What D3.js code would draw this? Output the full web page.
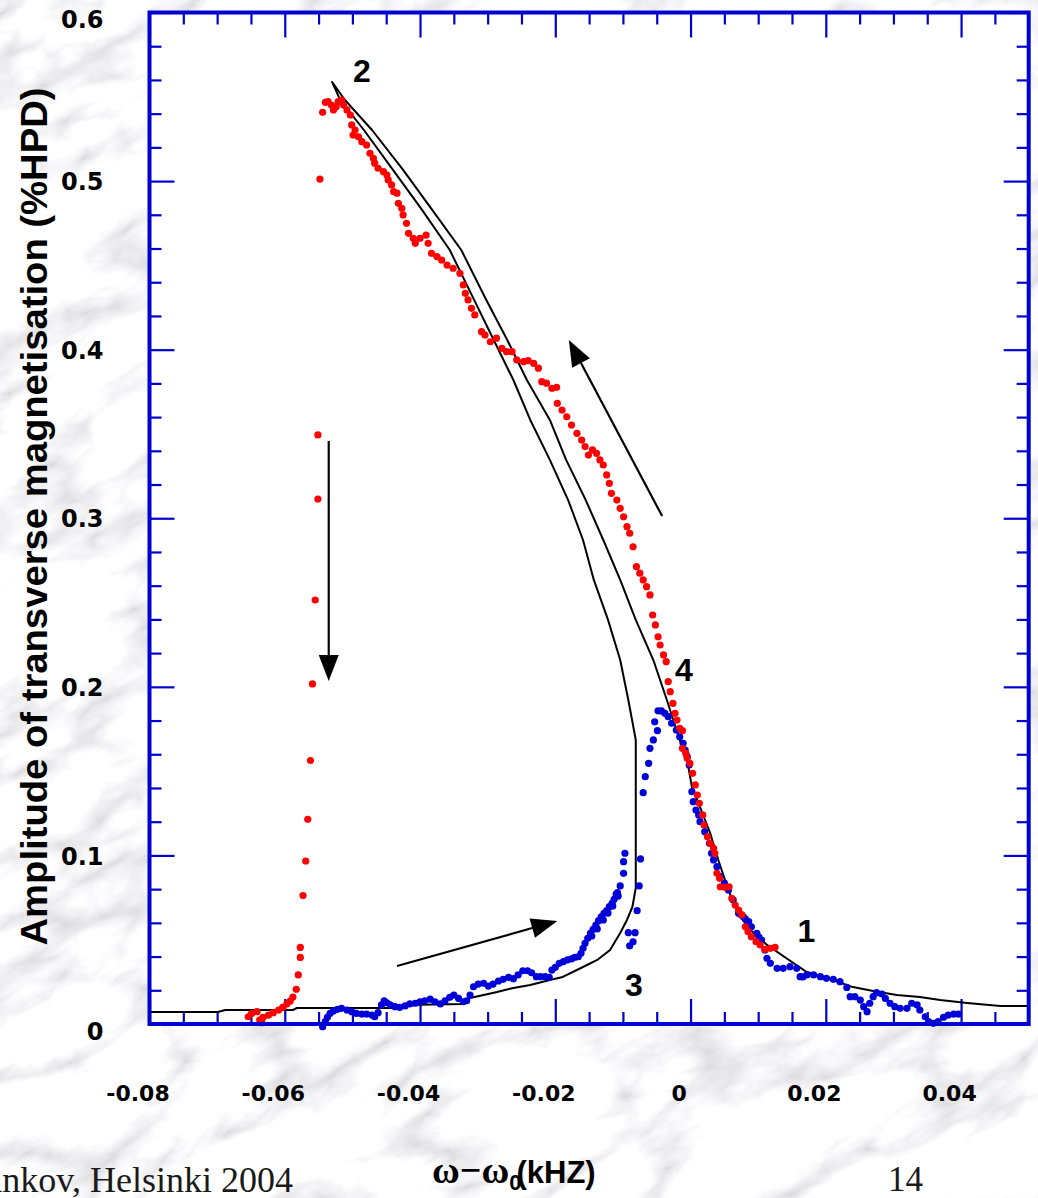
<!DOCTYPE html>
<html>
<head>
<meta charset="utf-8">
<script src="https://cdn.jsdelivr.net/npm/d3@7"></script>
<style>
  html, body { margin: 0; padding: 0; background: #e6e6e6; }
  svg { display: block; }
</style>
</head>
<body>
<svg id="chart" width="1038" height="1198"></svg>
<script>
// ---- axis definitions ----
const xDomain = [-0.08, 0.05];
const yDomain = [0, 0.6];
const xMajorTicks = [-0.08, -0.06, -0.04, -0.02, 0, 0.02, 0.04];
const xMinorTicks = [-0.075, -0.07, -0.065, -0.055, -0.05, -0.045, -0.035, -0.03, -0.025,
                     -0.015, -0.01, -0.005, 0.005, 0.01, 0.015, 0.025, 0.03, 0.035, 0.045];
const yMajorTicks = [0, 0.1, 0.2, 0.3, 0.4, 0.5, 0.6];
const yMinorTicks = [0.02, 0.04, 0.06, 0.08, 0.12, 0.14, 0.16, 0.18, 0.22, 0.24, 0.26, 0.28,
                     0.32, 0.34, 0.36, 0.38, 0.42, 0.44, 0.46, 0.48, 0.52, 0.54, 0.56, 0.58];

// ---- calculated response (folded resonance curve), [frequency offset kHz, amplitude] ----
const theoryCurve = [
  // lower branch
  [-0.0799,0.0071],[-0.0699,0.0071],[-0.0688,0.0083],[-0.0588,0.0083],[-0.0582,0.0095],
  [-0.0434,0.0095],[-0.0425,0.0113],[-0.0336,0.0119],[-0.0326,0.0154],[-0.0286,0.0190],
  [-0.0262,0.0214],[-0.0237,0.0231],[-0.0208,0.0261],[-0.0189,0.0279],[-0.0159,0.0338],
  [-0.0138,0.0380],[-0.0119,0.0439],[-0.0104,0.0540],[-0.0094,0.0617],[-0.0086,0.0694],
  [-0.0081,0.0807],[-0.0081,0.1685],
  // unstable branch up to the fold
  [-0.0092,0.1922],[-0.0104,0.2159],[-0.0122,0.2397],[-0.0143,0.2634],[-0.0159,0.2871],
  [-0.0181,0.3108],[-0.0208,0.3346],[-0.0237,0.3583],[-0.0262,0.3820],[-0.0291,0.4057],
  [-0.0320,0.4295],[-0.0356,0.4591],[-0.0397,0.4829],[-0.0440,0.5066],[-0.0483,0.5303],
  [-0.0518,0.5481],[-0.0530,0.5588],
  // upper branch and high-frequency tail
  [-0.0511,0.5481],[-0.0471,0.5303],[-0.0425,0.5066],[-0.0382,0.4829],[-0.0339,0.4591],
  [-0.0302,0.4295],[-0.0271,0.4057],[-0.0242,0.3820],[-0.0208,0.3583],[-0.0184,0.3346],
  [-0.0155,0.3108],[-0.0129,0.2871],[-0.0104,0.2634],[-0.0081,0.2397],[-0.0055,0.2159],
  [-0.0035,0.1922],[-0.0016,0.1685],[-0.0005,0.1566],
  [0.0002,0.1406],[0.0014,0.1287],[0.0029,0.1133],[0.0041,0.0973],[0.0051,0.0854],
  [0.0063,0.0718],[0.0084,0.0575],[0.0113,0.0469],[0.0152,0.0362],[0.0172,0.0308],
  [0.0202,0.0273],[0.0240,0.0219],[0.0270,0.0196],[0.0305,0.0172],[0.0339,0.0160],
  [0.0369,0.0142],[0.0409,0.0125],[0.0458,0.0107],[0.0499,0.0107]
];

// ---- measured amplitude, downward frequency sweep (red) ----
const sweepDown = [
  [0.0125,0.0455],[0.0118,0.0449],[0.0110,0.0443],[0.0103,0.0469],[0.0097,0.0488],
  [0.0090,0.0518],[0.0085,0.0548],[0.0081,0.0577],[0.0076,0.0647],[0.0071,0.0676],
  [0.0066,0.0706],[0.0061,0.0746],[0.0057,0.0814],[0.0051,0.0811],[0.0044,0.0814],
  [0.0043,0.0864],[0.0039,0.0894],[0.0036,0.1013],[0.0034,0.1042],[0.0029,0.1072],
  [0.0025,0.1111],[0.0020,0.1180],[0.0018,0.1240],[0.0013,0.1309],[0.0010,0.1358],
  [0.0007,0.1418],[0.0003,0.1487],[-0.0001,0.1546],[-0.0005,0.1576],[-0.0007,0.1606],
  [-0.0012,0.1635],[-0.0012,0.1740],[-0.0016,0.1754],[-0.0020,0.1803],[-0.0023,0.1843],
  [-0.0026,0.1902],[-0.0030,0.1971],[-0.0033,0.2031],[-0.0036,0.2149],[-0.0040,0.2189],
  [-0.0045,0.2248],[-0.0048,0.2297],[-0.0052,0.2367],[-0.0056,0.2426],[-0.0060,0.2545],
  [-0.0065,0.2594],[-0.0070,0.2634],[-0.0075,0.2674],[-0.0080,0.2713],[-0.0085,0.2831],
  [-0.0090,0.2911],[-0.0094,0.2950],[-0.0099,0.3009],[-0.0104,0.3059],[-0.0109,0.3108],
  [-0.0117,0.3148],[-0.0120,0.3207],[-0.0124,0.3257],[-0.0129,0.3316],[-0.0134,0.3346],
  [-0.0139,0.3385],[-0.0145,0.3405],[-0.0151,0.3375],[-0.0156,0.3425],[-0.0161,0.3464],
  [-0.0168,0.3504],[-0.0176,0.3553],[-0.0183,0.3602],[-0.0190,0.3642],[-0.0197,0.3682],
  [-0.0198,0.3777],[-0.0205,0.3771],[-0.0213,0.3801],[-0.0220,0.3810],[-0.0225,0.3890],
  [-0.0232,0.3919],[-0.0240,0.3935],[-0.0247,0.3929],[-0.0257,0.3939],[-0.0264,0.3988],
  [-0.0272,0.3988],[-0.0279,0.4008],[-0.0287,0.4068],[-0.0296,0.4047],[-0.0304,0.4087],
  [-0.0309,0.4107],[-0.0319,0.4206],[-0.0324,0.4245],[-0.0329,0.4295],[-0.0333,0.4334],
  [-0.0336,0.4384],[-0.0341,0.4453],[-0.0351,0.4483],[-0.0360,0.4502],[-0.0368,0.4532],
  [-0.0375,0.4552],[-0.0383,0.4572],[-0.0388,0.4631],[-0.0391,0.4680],[-0.0400,0.4661],
  [-0.0407,0.4631],[-0.0410,0.4661],[-0.0417,0.4690],[-0.0420,0.4750],[-0.0425,0.4799],
  [-0.0427,0.4839],[-0.0432,0.4868],[-0.0434,0.4928],[-0.0439,0.4937],[-0.0442,0.4977],
  [-0.0447,0.5007],[-0.0449,0.5036],[-0.0454,0.5056],[-0.0462,0.5076],[-0.0467,0.5106],
  [-0.0469,0.5135],[-0.0474,0.5165],[-0.0479,0.5214],[-0.0486,0.5234],[-0.0491,0.5263],
  [-0.0499,0.5273],[-0.0496,0.5303],[-0.0501,0.5333],[-0.0503,0.5392],[-0.0508,0.5422],
  [-0.0513,0.5451],[-0.0516,0.5481],[-0.0521,0.5471],[-0.0524,0.5441],[-0.0528,0.5422],
  [-0.0531,0.5451],[-0.0536,0.5471],[-0.0540,0.5467],[-0.0544,0.5408],[-0.0548,0.5012],
  [-0.0551,0.3494],[-0.0551,0.3114],[-0.0555,0.2515],[-0.0559,0.2017],[-0.0562,0.1563],
  [-0.0566,0.1214],[-0.0569,0.0967],[-0.0573,0.0762],[-0.0577,0.0454],[-0.0577,0.0395],
  [-0.0580,0.0291],[-0.0583,0.0206],[-0.0588,0.0160],[-0.0592,0.0136],[-0.0597,0.0119],
  [-0.0603,0.0099],[-0.0609,0.0083],[-0.0617,0.0067],[-0.0624,0.0053],[-0.0632,0.0040],
  [-0.0637,0.0024],[-0.0634,0.0008],[-0.0641,0.0073],[-0.0649,0.0063],[-0.0654,0.0043]
];

// ---- measured amplitude, upward frequency sweep (blue) ----
const sweepUp = [
  [-0.0544,-0.0016],[-0.0540,0.0014],[-0.0537,0.0040],[-0.0533,0.0063],[-0.0528,0.0077],
  [-0.0522,0.0087],[-0.0516,0.0093],[-0.0508,0.0083],[-0.0501,0.0073],[-0.0494,0.0063],
  [-0.0486,0.0059],[-0.0479,0.0059],[-0.0471,0.0053],[-0.0467,0.0043],[-0.0462,0.0067],
  [-0.0457,0.0113],[-0.0453,0.0138],[-0.0449,0.0126],[-0.0444,0.0113],[-0.0437,0.0103],
  [-0.0430,0.0099],[-0.0422,0.0107],[-0.0415,0.0119],[-0.0407,0.0123],[-0.0400,0.0132],
  [-0.0393,0.0138],[-0.0385,0.0147],[-0.0378,0.0132],[-0.0370,0.0119],[-0.0363,0.0138],
  [-0.0356,0.0158],[-0.0350,0.0172],[-0.0343,0.0152],[-0.0336,0.0132],[-0.0331,0.0138],
  [-0.0326,0.0172],[-0.0321,0.0221],[-0.0314,0.0237],[-0.0306,0.0241],[-0.0299,0.0225],
  [-0.0292,0.0237],[-0.0284,0.0255],[-0.0277,0.0265],[-0.0269,0.0277],[-0.0262,0.0269],
  [-0.0255,0.0291],[-0.0248,0.0316],[-0.0241,0.0316],[-0.0235,0.0304],[-0.0228,0.0281],
  [-0.0222,0.0281],[-0.0215,0.0281],[-0.0209,0.0277],[-0.0205,0.0320],[-0.0200,0.0336],
  [-0.0194,0.0360],[-0.0188,0.0370],[-0.0182,0.0380],[-0.0176,0.0386],[-0.0171,0.0396],
  [-0.0166,0.0399],[-0.0162,0.0419],[-0.0159,0.0449],[-0.0156,0.0479],[-0.0152,0.0508],
  [-0.0148,0.0538],[-0.0144,0.0562],[-0.0140,0.0587],[-0.0136,0.0613],[-0.0132,0.0636],
  [-0.0128,0.0657],[-0.0124,0.0672],[-0.0120,0.0696],[-0.0116,0.0716],[-0.0113,0.0740],
  [-0.0110,0.0771],[-0.0108,0.0779],[-0.0104,0.0819],[-0.0099,0.0894],[-0.0099,0.0963],
  [-0.0097,0.1013],[-0.0146,0.0522],[-0.0138,0.0564],[-0.0129,0.0617],[-0.0122,0.0658],
  [-0.0115,0.0700],[-0.0107,0.0759],
  [-0.0074,0.0979],[-0.0076,0.0819],[-0.0079,0.0672],[-0.0082,0.0542],[-0.0092,0.0542],
  [-0.0085,0.0488],[-0.0090,0.0464],
  [-0.0070,0.1372],[-0.0067,0.1467],[-0.0062,0.1546],[-0.0060,0.1635],[-0.0055,0.1685],
  [-0.0053,0.1793],[-0.0049,0.1740],[-0.0048,0.1858],[-0.0043,0.1857],[-0.0038,0.1843],
  [-0.0033,0.1823],[-0.0028,0.1784],[-0.0021,0.1744],[-0.0016,0.1704],[-0.0011,0.1665],
  [-0.0008,0.1625],[-0.0005,0.1586],[-0.0002,0.1536],[0.0002,0.1378],[0.0004,0.1319],
  [0.0008,0.1269],[0.0012,0.1240],[0.0014,0.1200],[0.0021,0.1141],[0.0028,0.1072],
  [0.0031,0.1013],[0.0034,0.0973],[0.0039,0.0933],[0.0044,0.0874],[0.0050,0.0836],
  [0.0056,0.0795],[0.0063,0.0736],[0.0071,0.0657],[0.0075,0.0647],[0.0078,0.0636],
  [0.0081,0.0623],[0.0086,0.0607],[0.0090,0.0577],[0.0098,0.0538],[0.0101,0.0516],
  [0.0105,0.0498],[0.0110,0.0439],[0.0113,0.0390],[0.0118,0.0360],[0.0128,0.0330],
  [0.0137,0.0330],[0.0147,0.0340],[0.0157,0.0330],[0.0162,0.0281],[0.0166,0.0279],
  [0.0172,0.0291],[0.0182,0.0291],[0.0192,0.0281],[0.0201,0.0271],[0.0211,0.0265],
  [0.0221,0.0251],[0.0231,0.0217],[0.0236,0.0162],[0.0243,0.0162],[0.0251,0.0142],
  [0.0256,0.0103],[0.0261,0.0073],[0.0265,0.0123],[0.0270,0.0162],[0.0275,0.0186],
  [0.0283,0.0178],[0.0288,0.0152],[0.0295,0.0123],[0.0302,0.0103],[0.0310,0.0093],
  [0.0320,0.0093],[0.0327,0.0123],[0.0335,0.0113],[0.0339,0.0083],[0.0347,0.0043],
  [0.0352,0.0014],[0.0359,0.0004],[0.0366,0.0014],[0.0374,0.0040],[0.0381,0.0053],
  [0.0389,0.0058],[0.0396,0.0058]
];

// ---- annotations ----
const pointLabels = [
  { text: "2", x: -0.0499, y: 0.5588 },
  { text: "4", x: -0.0023, y: 0.2035 },
  { text: "1", x: 0.0158,  y: 0.0486 },
  { text: "3", x: -0.0097, y: 0.0166 }
];
const sweepArrows = [
  { from: [-0.0535, 0.3458], to: [-0.0535, 0.2035] },
  { from: [-0.0042, 0.3013], to: [-0.0180, 0.4057] },
  { from: [-0.0434, 0.0344], to: [-0.0197, 0.0611] }
];

// ---- layout ----
const W = 1038, H = 1198;
const svg = d3.select("#chart");
const x = d3.scaleLinear().domain(xDomain).range([149.5, 1028.7]);
const y = d3.scaleLinear().domain(yDomain).range([1024, 12.5]);
const frameBlue = "#0000d0";

// marble backdrop
const defs = svg.append("defs");
const f = defs.append("filter").attr("id", "marble")
  .attr("filterUnits", "userSpaceOnUse")
  .attr("x", -900).attr("y", -900).attr("width", 2900).attr("height", 2900);
f.append("feTurbulence").attr("type", "turbulence")
  .attr("baseFrequency", "0.0055 0.012").attr("numOctaves", 5).attr("seed", 23)
  .attr("result", "noise");
f.append("feColorMatrix").attr("in", "noise").attr("type", "matrix")
  .attr("values", "0.95 0 0 0 0.70  0.95 0 0 0 0.70  0.95 0 0 0 0.715  0 0 0 0 1");

svg.append("rect").attr("width", W).attr("height", H).attr("fill", "#e4e4e4");
svg.append("g").attr("transform", "rotate(-30 519 599)")
  .append("rect")
  .attr("x", -900).attr("y", -900).attr("width", 2900).attr("height", 2900)
  .attr("filter", "url(#marble)");

// plot area
svg.append("rect")
  .attr("x", x(xDomain[0])).attr("y", y(yDomain[1]))
  .attr("width", x(xDomain[1]) - x(xDomain[0]))
  .attr("height", y(yDomain[0]) - y(yDomain[1]))
  .attr("fill", "#ffffff");

// inward ticks on all four sides
function tickAxis(axis, transform) {
  const g = svg.append("g").attr("transform", transform).call(axis);
  g.select(".domain").remove();
  g.selectAll(".tick text").remove();
  g.selectAll(".tick line").attr("stroke", frameBlue).attr("stroke-width", 2.2);
  return g;
}
const top0 = `translate(0,${y(yDomain[1])})`;
const bot0 = `translate(0,${y(yDomain[0])})`;
const left0 = `translate(${x(xDomain[0])},0)`;
const right0 = `translate(${x(xDomain[1])},0)`;
tickAxis(d3.axisBottom(x).tickValues(xMajorTicks).tickSize(25), top0);
tickAxis(d3.axisBottom(x).tickValues(xMinorTicks).tickSize(12), top0);
tickAxis(d3.axisTop(x).tickValues(xMajorTicks).tickSize(25), bot0);
tickAxis(d3.axisTop(x).tickValues(xMinorTicks).tickSize(12), bot0);
tickAxis(d3.axisRight(y).tickValues(yMajorTicks).tickSize(25), left0);
tickAxis(d3.axisRight(y).tickValues(yMinorTicks).tickSize(12), left0);
tickAxis(d3.axisLeft(y).tickValues(yMajorTicks).tickSize(25), right0);
tickAxis(d3.axisLeft(y).tickValues(yMinorTicks).tickSize(12), right0);

// tick labels
const xLab = svg.append("g").attr("transform", bot0)
  .call(d3.axisBottom(x).tickValues(xMajorTicks).tickSize(0).tickPadding(61)
    .tickFormat(d => d === 0 ? "0" : d.toFixed(2)));
xLab.select(".domain").remove();
xLab.selectAll("text")
  .attr("dx", -12)
  .attr("font-family", "'DejaVu Sans', sans-serif").attr("font-weight", "bold")
  .attr("font-size", 22).attr("fill", "#000");

const yLab = svg.append("g").attr("transform", left0)
  .call(d3.axisLeft(y).tickValues(yMajorTicks).tickSize(0).tickPadding(46)
    .tickFormat(d => d === 0 ? "0" : d.toFixed(1)));
yLab.select(".domain").remove();
yLab.selectAll("text")
  .attr("dy", d => (d === 0 || d === 0.6) ? "0.64em" : "0.36em")
  .attr("font-family", "'DejaVu Sans', sans-serif").attr("font-weight", "bold")
  .attr("font-size", 24).attr("fill", "#000");

// calculated curve
svg.append("path")
  .datum(theoryCurve)
  .attr("d", d3.line().x(d => x(d[0])).y(d => y(d[1])))
  .attr("fill", "none").attr("stroke", "#000").attr("stroke-width", 2)
  .attr("stroke-linejoin", "round");

// measured points
svg.append("g").selectAll("circle").data(sweepUp).join("circle")
  .attr("cx", d => x(d[0])).attr("cy", d => y(d[1])).attr("r", 3.6)
  .attr("fill", "#0000d8");
svg.append("g").selectAll("circle").data(sweepDown).join("circle")
  .attr("cx", d => x(d[0])).attr("cy", d => y(d[1])).attr("r", 3.6)
  .attr("fill", "#ff0000");

// sweep direction arrows
const arrowG = svg.append("g");
sweepArrows.forEach(a => {
  const x1 = x(a.from[0]), y1 = y(a.from[1]);
  const x2 = x(a.to[0]), y2 = y(a.to[1]);
  const ang = Math.atan2(y2 - y1, x2 - x1);
  const len = 26, half = 10;
  const bx = x2 - len * Math.cos(ang), by = y2 - len * Math.sin(ang);
  arrowG.append("line")
    .attr("x1", x1).attr("y1", y1).attr("x2", bx).attr("y2", by)
    .attr("stroke", "#000").attr("stroke-width", 2.2);
  arrowG.append("path")
    .attr("d", `M${x2},${y2}L${bx + half * Math.sin(ang)},${by - half * Math.cos(ang)}` +
               `L${bx - half * Math.sin(ang)},${by + half * Math.cos(ang)}Z`)
    .attr("fill", "#000");
});

// numbered states
svg.append("g").selectAll("text").data(pointLabels).join("text")
  .attr("x", d => x(d.x)).attr("y", d => y(d.y))
  .attr("font-family", "'Liberation Sans', Arial, sans-serif").attr("font-weight", "bold")
  .attr("font-size", 32).attr("fill", "#000")
  .text(d => d.text);

// frame
svg.append("rect")
  .attr("x", x(xDomain[0])).attr("y", y(yDomain[1]))
  .attr("width", x(xDomain[1]) - x(xDomain[0]))
  .attr("height", y(yDomain[0]) - y(yDomain[1]))
  .attr("fill", "none").attr("stroke", frameBlue).attr("stroke-width", 4);

// axis titles
svg.append("text")
  .attr("transform", "translate(47,516.5) rotate(-90)")
  .attr("text-anchor", "middle")
  .attr("font-family", "'Liberation Sans', Arial, sans-serif").attr("font-weight", "bold")
  .attr("font-size", 36).attr("fill", "#000")
  .attr("textLength", 858).attr("lengthAdjust", "spacingAndGlyphs")
  .text("Amplitude of transverse magnetisation (%HPD)");

const xt = svg.append("text")
  .attr("x", 432).attr("y", 1183)
  .attr("font-family", "'Liberation Sans', Arial, sans-serif").attr("font-weight", "bold")
  .attr("font-size", 31).attr("fill", "#000");
xt.append("tspan").attr("font-family", "'Liberation Serif', serif").attr("font-size", 38)
  .text("ω−ω");
xt.append("tspan").attr("font-size", 22).attr("dy", 7).text("0");
xt.append("tspan").attr("dy", -7).attr("dx", -5).text("(kHZ)");

// slide footer
svg.append("text")
  .attr("x", 293).attr("y", 1192).attr("text-anchor", "end")
  .attr("font-family", "'Liberation Serif', 'Times New Roman', serif")
  .attr("font-size", 36).attr("fill", "#1a1a1a")
  .text("Bunkov, Helsinki 2004");
svg.append("text")
  .attr("x", 888).attr("y", 1191)
  .attr("font-family", "'Liberation Serif', 'Times New Roman', serif")
  .attr("font-size", 35).attr("fill", "#1a1a1a")
  .text("14");
</script>
</body>
</html>
